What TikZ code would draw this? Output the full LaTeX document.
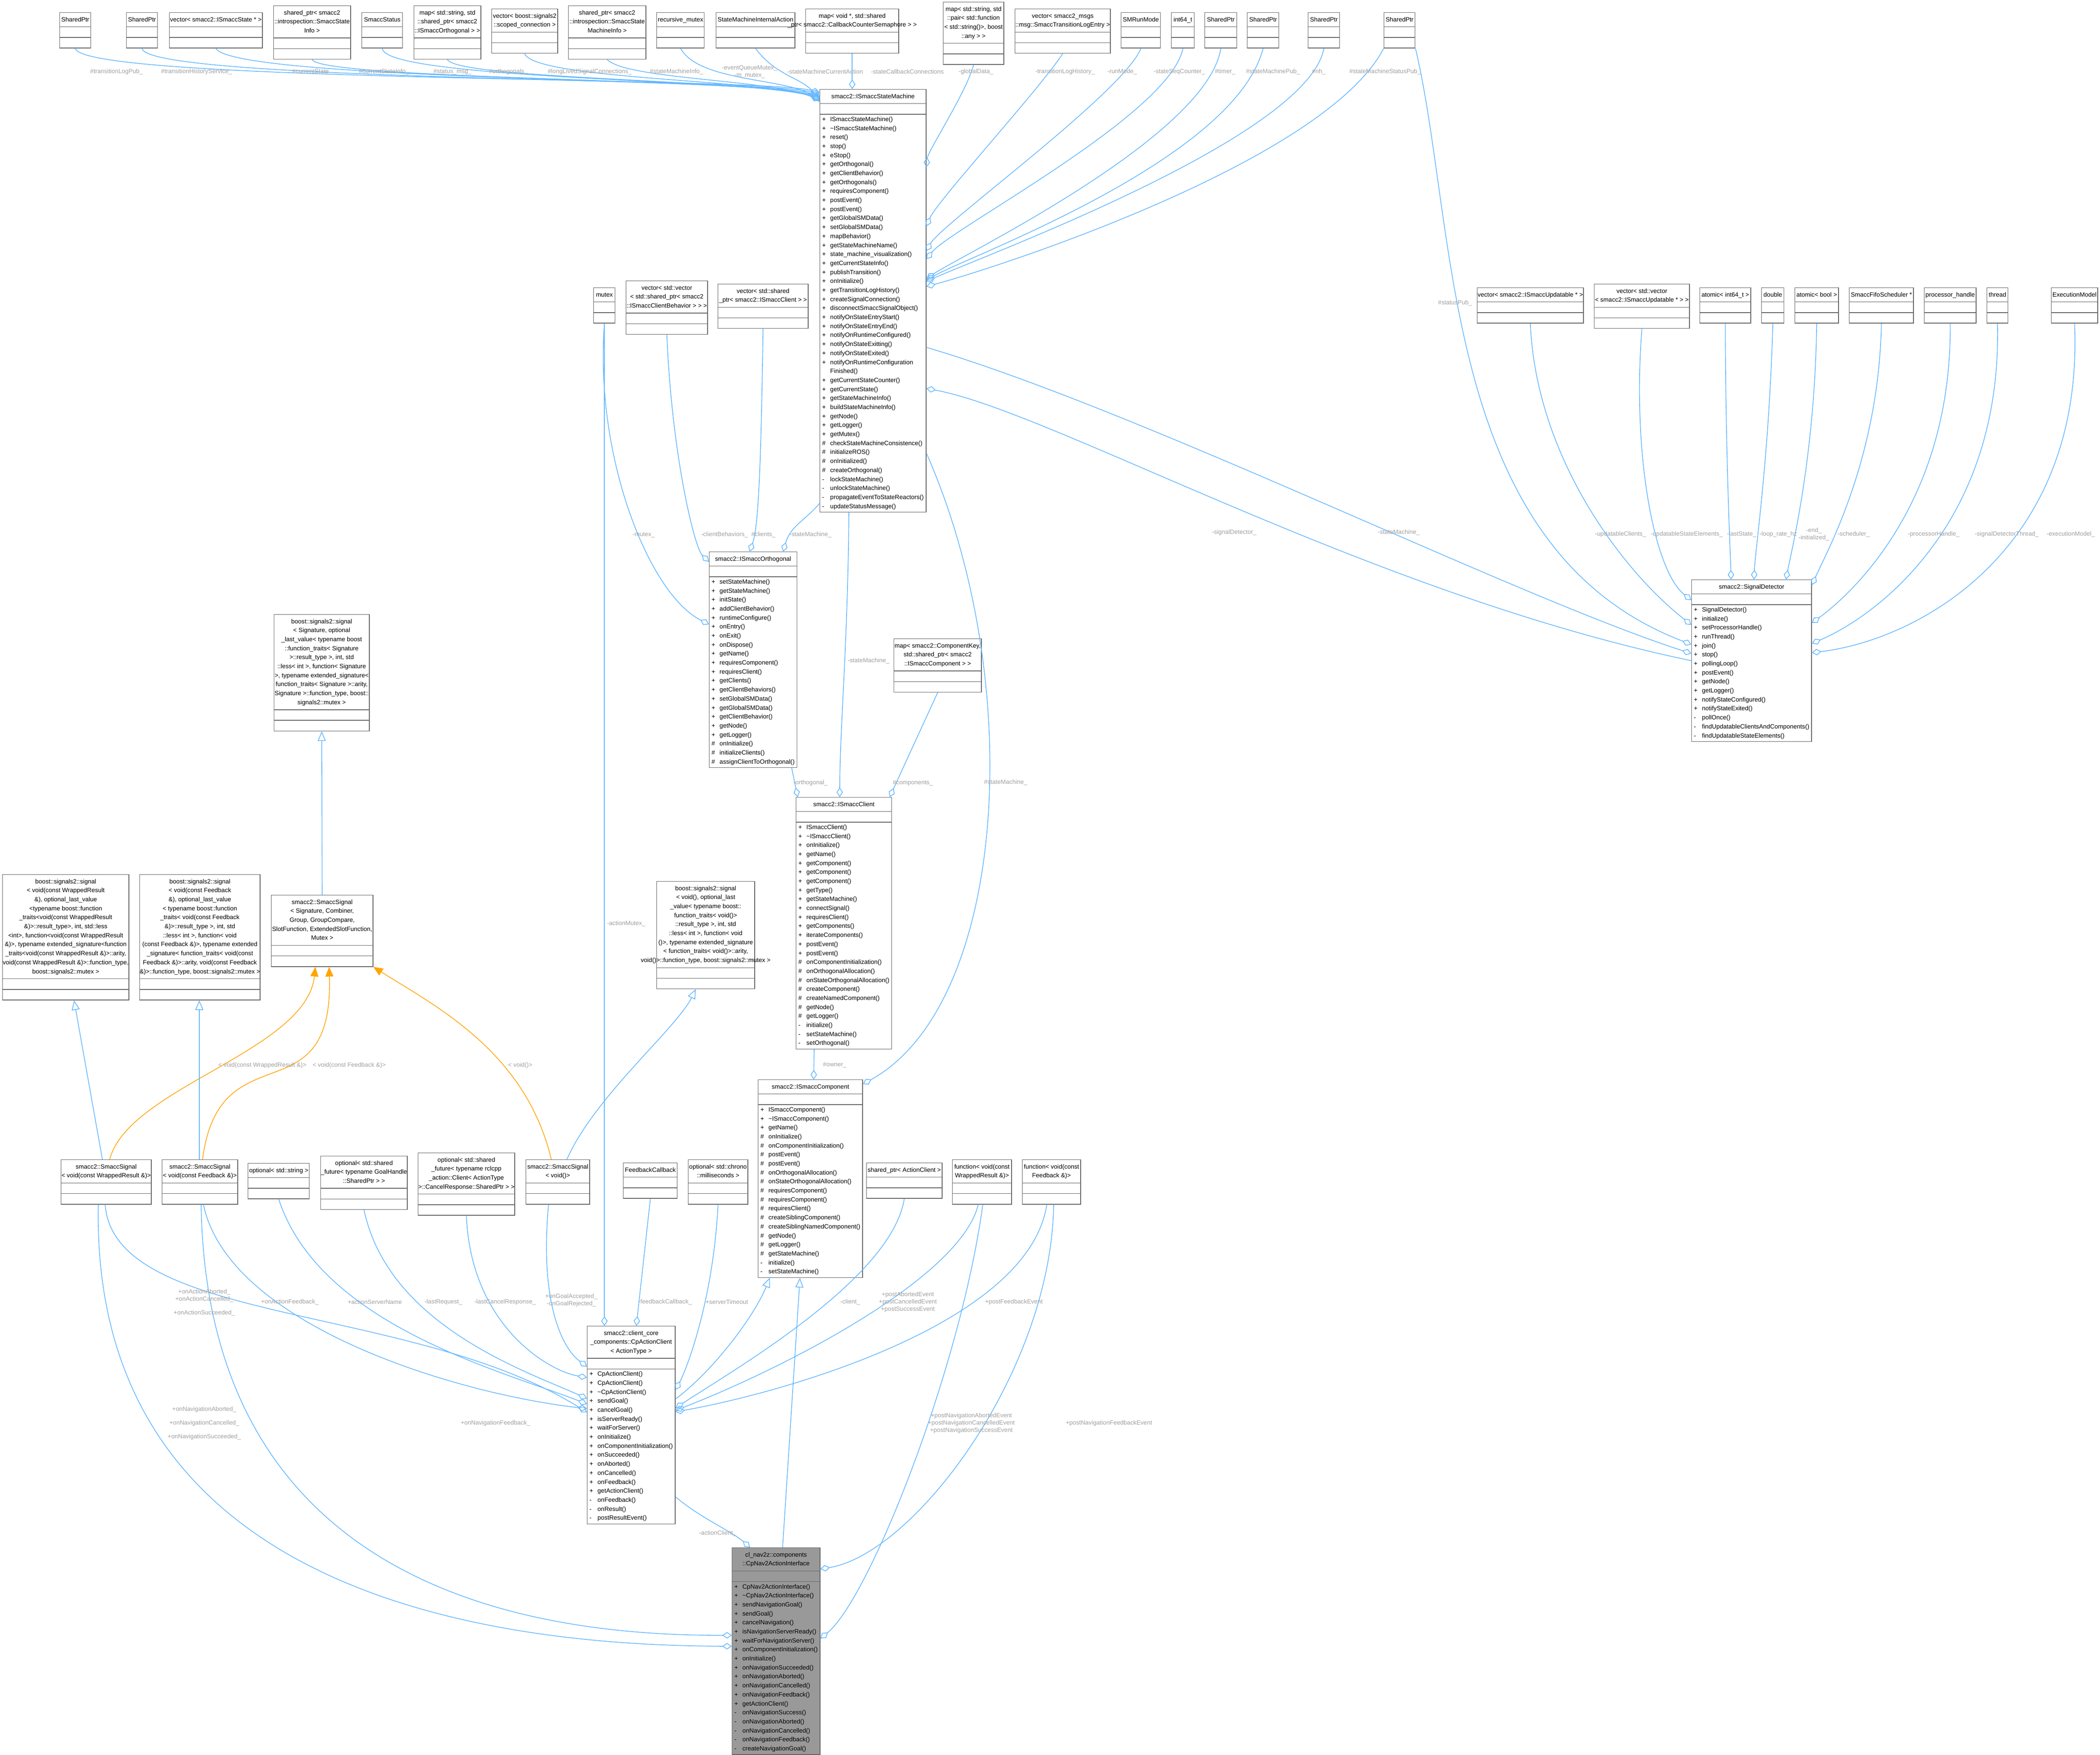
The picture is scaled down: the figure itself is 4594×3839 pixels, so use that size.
\documentclass[tikz,border=0pt]{standalone}
\usepackage{fontspec}
\setmainfont{Liberation Sans}
\usetikzlibrary{shapes.multipart,arrows.meta,calc}

\definecolor{edgeblue}{RGB}{99,184,255}
\definecolor{edgeorange}{RGB}{255,165,0}
\definecolor{lblgray}{RGB}{160,160,160}
\definecolor{boxgray}{RGB}{102,102,102}

\newcommand{\pubm}{\makebox[5pt][l]{+}}
\newcommand{\prom}{\makebox[5pt][l]{\#}}
\newcommand{\privm}{\makebox[5pt][l]{-}}
\newcommand{\emptyrow}{\rule{0pt}{3.4pt}}
\newcommand{\clsw}{1cm}
\newcommand{\ctitle}[1]{\makebox[\dimexpr\clsw-2.8pt\relax][c]{\begin{tabular}{@{}c@{}}#1\end{tabular}}}

\tikzset{
  cls/.style={draw=boxgray, fill=white, rectangle split, rectangle split parts=3,
    inner sep=1.4pt, font=\fontsize{3.85}{5.6}\selectfont, anchor=north west,
    minimum width=#1, align=left, /utils/exec={\renewcommand{\clsw}{#1}}},
  agg/.style={draw=edgeblue, line width=0.45pt, -{Diamond[open,length=6pt,width=4pt]}},
  inh/.style={draw=edgeblue, line width=0.45pt, -{Triangle[open,length=6pt,width=5pt]}},
  tpl/.style={draw=edgeorange, line width=0.45pt, -{Triangle[length=6pt,width=5pt]}},
  lbl/.style={text=lblgray, font=\fontsize{3.8}{4.6}\selectfont, align=center, inner sep=0pt},
}

\begin{document}
\begin{tikzpicture}[x=0.01cm,y=-0.01cm]
\useasboundingbox[fill=white] (0,0) rectangle (4594,3839);

% top row, members of the state machine
\node[cls=0.68cm] (tlp) at (130,27) {\ctitle{SharedPtr}\nodepart{two}\emptyrow\nodepart{three}\emptyrow};
\node[cls=0.68cm] (ths) at (276,27) {\ctitle{SharedPtr}\nodepart{two}\emptyrow\nodepart{three}\emptyrow};
\node[cls=2.03cm] (cst) at (370,27) {\ctitle{vector< smacc2::ISmaccState * >}\nodepart{two}\emptyrow\nodepart{three}\emptyrow};
\node[cls=1.68cm] (csi) at (598,12) {\ctitle{shared\_ptr< smacc2\\::introspection::SmaccState\\Info >}\nodepart{two}\emptyrow\nodepart{three}\emptyrow};
\node[cls=0.89cm] (sts) at (791,27) {\ctitle{SmaccStatus}\nodepart{two}\emptyrow\nodepart{three}\emptyrow};
\node[cls=1.46cm] (ort) at (905,12) {\ctitle{map< std::string, std\\::shared\_ptr< smacc2\\::ISmaccOrthogonal > >}\nodepart{two}\emptyrow\nodepart{three}\emptyrow};
\node[cls=1.44cm] (lls) at (1075,19) {\ctitle{vector< boost::signals2\\::scoped\_connection >}\nodepart{two}\emptyrow\nodepart{three}\emptyrow};
\node[cls=1.69cm] (smi) at (1243,12) {\ctitle{shared\_ptr< smacc2\\::introspection::SmaccState\\MachineInfo >}\nodepart{two}\emptyrow\nodepart{three}\emptyrow};
\node[cls=1.04cm] (rmx) at (1436,27) {\ctitle{recursive\_mutex}\nodepart{two}\emptyrow\nodepart{three}\emptyrow};
\node[cls=1.72cm] (sia) at (1566,27) {\ctitle{StateMachineInternalAction}\nodepart{two}\emptyrow\nodepart{three}\emptyrow};
\node[cls=2.03cm] (scc) at (1762,19) {\ctitle{map< void *, std::shared\\\_ptr< smacc2::CallbackCounterSemaphore > >}\nodepart{two}\emptyrow\nodepart{three}\emptyrow};
\node[cls=1.32cm] (gld) at (2063,4) {\ctitle{map< std::string, std\\::pair< std::function\\< std::string()>, boost\\::any > >}\nodepart{two}\emptyrow\nodepart{three}\emptyrow};
\node[cls=2.08cm] (tlh) at (2220,19) {\ctitle{vector< smacc2\_msgs\\::msg::SmaccTransitionLogEntry >}\nodepart{two}\emptyrow\nodepart{three}\emptyrow};
\node[cls=0.86cm] (rmd) at (2452,27) {\ctitle{SMRunMode}\nodepart{two}\emptyrow\nodepart{three}\emptyrow};
\node[cls=0.50cm] (ssq) at (2562,27) {\ctitle{int64\_t}\nodepart{two}\emptyrow\nodepart{three}\emptyrow};
\node[cls=0.70cm] (tmr) at (2635,27) {\ctitle{SharedPtr}\nodepart{two}\emptyrow\nodepart{three}\emptyrow};
\node[cls=0.69cm] (smp) at (2728,27) {\ctitle{SharedPtr}\nodepart{two}\emptyrow\nodepart{three}\emptyrow};
\node[cls=0.69cm] (nhp) at (2861,27) {\ctitle{SharedPtr}\nodepart{two}\emptyrow\nodepart{three}\emptyrow};
\node[cls=0.68cm] (ssp) at (3027,27) {\ctitle{SharedPtr}\nodepart{two}\emptyrow\nodepart{three}\emptyrow};

% state machine
\node[cls=2.17cm] (sm) at (1793,195) {\ctitle{smacc2::ISmaccStateMachine}\nodepart{two}\emptyrow\nodepart{three}%
\pubm ISmaccStateMachine()\\\pubm \textasciitilde ISmaccStateMachine()\\\pubm reset()\\\pubm stop()\\\pubm eStop()\\
\pubm getOrthogonal()\\\pubm getClientBehavior()\\\pubm getOrthogonals()\\\pubm requiresComponent()\\\pubm postEvent()\\
\pubm postEvent()\\\pubm getGlobalSMData()\\\pubm setGlobalSMData()\\\pubm mapBehavior()\\\pubm getStateMachineName()\\
\pubm state\_machine\_visualization()\\\pubm getCurrentStateInfo()\\\pubm publishTransition()\\\pubm onInitialize()\\
\pubm getTransitionLogHistory()\\\pubm createSignalConnection()\\\pubm disconnectSmaccSignalObject()\\
\pubm notifyOnStateEntryStart()\\\pubm notifyOnStateEntryEnd()\\\pubm notifyOnRuntimeConfigured()\\
\pubm notifyOnStateExitting()\\\pubm notifyOnStateExited()\\\pubm notifyOnRuntimeConfiguration\\\hspace*{5pt}Finished()\\
\pubm getCurrentStateCounter()\\\pubm getCurrentState()\\\pubm getStateMachineInfo()\\\pubm buildStateMachineInfo()\\
\pubm getNode()\\\pubm getLogger()\\\pubm getMutex()\\\prom checkStateMachineConsistence()\\\prom initializeROS()\\
\prom onInitialized()\\\prom createOrthogonal()\\\privm lockStateMachine()\\\privm unlockStateMachine()\\
\privm propagateEventToStateReactors()\\\privm updateStatusMessage()};

% orthogonal and its members
\node[cls=0.47cm] (mtx) at (1298,629) {\ctitle{mutex}\nodepart{two}\emptyrow\nodepart{three}\emptyrow};
\node[cls=1.78cm] (cbv) at (1369,614) {\ctitle{vector< std::vector\\< std::shared\_ptr< smacc2\\::ISmaccClientBehavior > > >}\nodepart{two}\emptyrow\nodepart{three}\emptyrow};
\node[cls=1.97cm] (clv) at (1570,621) {\ctitle{vector< std::shared\\\_ptr< smacc2::ISmaccClient > >}\nodepart{two}\emptyrow\nodepart{three}\emptyrow};
\node[cls=1.81cm] (orth) at (1551,1207) {\ctitle{smacc2::ISmaccOrthogonal}\nodepart{two}\emptyrow\nodepart{three}%
\pubm setStateMachine()\\\pubm getStateMachine()\\\pubm initState()\\\pubm addClientBehavior()\\\pubm runtimeConfigure()\\
\pubm onEntry()\\\pubm onExit()\\\pubm onDispose()\\\pubm getName()\\\pubm requiresComponent()\\\pubm requiresClient()\\
\pubm getClients()\\\pubm getClientBehaviors()\\\pubm setGlobalSMData()\\\pubm getGlobalSMData()\\\pubm getClientBehavior()\\
\pubm getNode()\\\pubm getLogger()\\\prom onInitialize()\\\prom initializeClients()\\\prom assignClientToOrthogonal()};

% client and component
\node[cls=1.91cm] (ckm) at (1955,1397) {\ctitle{map< smacc2::ComponentKey,\\ std::shared\_ptr< smacc2\\::ISmaccComponent > >}\nodepart{two}\emptyrow\nodepart{three}\emptyrow};
\node[cls=1.96cm] (client) at (1741,1744) {\ctitle{smacc2::ISmaccClient}\nodepart{two}\emptyrow\nodepart{three}%
\pubm ISmaccClient()\\\pubm \textasciitilde ISmaccClient()\\\pubm onInitialize()\\\pubm getName()\\\pubm getComponent()\\
\pubm getComponent()\\\pubm getComponent()\\\pubm getType()\\\pubm getStateMachine()\\\pubm connectSignal()\\
\pubm requiresClient()\\\pubm getComponents()\\\pubm iterateComponents()\\\pubm postEvent()\\\pubm postEvent()\\
\prom onComponentInitialization()\\\prom onOrthogonalAllocation()\\\prom onStateOrthogonalAllocation()\\
\prom createComponent()\\\prom createNamedComponent()\\\prom getNode()\\\prom getLogger()\\\privm initialize()\\
\privm setStateMachine()\\\privm setOrthogonal()};
\node[cls=2.16cm] (comp) at (1658,2362) {\ctitle{smacc2::ISmaccComponent}\nodepart{two}\emptyrow\nodepart{three}%
\pubm ISmaccComponent()\\\pubm \textasciitilde ISmaccComponent()\\\pubm getName()\\\prom onInitialize()\\
\prom onComponentInitialization()\\\prom postEvent()\\\prom postEvent()\\\prom onOrthogonalAllocation()\\
\prom onStateOrthogonalAllocation()\\\prom requiresComponent()\\\prom requiresComponent()\\\prom requiresClient()\\
\prom createSiblingComponent()\\\prom createSiblingNamedComponent()\\\prom getNode()\\\prom getLogger()\\
\prom getStateMachine()\\\privm initialize()\\\privm setStateMachine()};

% signal detector and its members
\node[cls=2.32cm] (upc) at (3231,629) {\ctitle{vector< smacc2::ISmaccUpdatable * >}\nodepart{two}\emptyrow\nodepart{three}\emptyrow};
\node[cls=2.08cm] (upe) at (3487,621) {\ctitle{vector< std::vector\\< smacc2::ISmaccUpdatable * > >}\nodepart{two}\emptyrow\nodepart{three}\emptyrow};
\node[cls=1.11cm] (lst) at (3718,629) {\ctitle{atomic< int64\_t >}\nodepart{two}\emptyrow\nodepart{three}\emptyrow};
\node[cls=0.49cm] (lrh) at (3853,629) {\ctitle{double}\nodepart{two}\emptyrow\nodepart{three}\emptyrow};
\node[cls=0.95cm] (abl) at (3926,629) {\ctitle{atomic< bool >}\nodepart{two}\emptyrow\nodepart{three}\emptyrow};
\node[cls=1.40cm] (sch) at (4045,629) {\ctitle{SmaccFifoScheduler *}\nodepart{two}\emptyrow\nodepart{three}\emptyrow};
\node[cls=1.13cm] (prh) at (4209,629) {\ctitle{processor\_handle}\nodepart{two}\emptyrow\nodepart{three}\emptyrow};
\node[cls=0.46cm] (thr) at (4346,629) {\ctitle{thread}\nodepart{two}\emptyrow\nodepart{three}\emptyrow};
\node[cls=1.01cm] (exm) at (4487,629) {\ctitle{ExecutionModel}\nodepart{two}\emptyrow\nodepart{three}\emptyrow};
\node[cls=2.46cm] (sd) at (3700,1268) {\ctitle{smacc2::SignalDetector}\nodepart{two}\emptyrow\nodepart{three}%
\pubm SignalDetector()\\\pubm initialize()\\\pubm setProcessorHandle()\\\pubm runThread()\\\pubm join()\\\pubm stop()\\
\pubm pollingLoop()\\\pubm postEvent()\\\pubm getNode()\\\pubm getLogger()\\\pubm notifyStateConfigured()\\
\pubm notifyStateExited()\\\privm pollOnce()\\\privm findUpdatableClientsAndComponents()\\\privm findUpdatableStateElements()};

% signals
\node[cls=2.08cm] (bsig) at (599,1344) {\ctitle{boost::signals2::signal\\< Signature, optional\\\_last\_value< typename boost\\::function\_traits< Signature\\ >::result\_type >, int, std\\::less< int >, function< Signature\\ >, typename extended\_signature<\\ function\_traits< Signature >::arity,\\ Signature >::function\_type, boost::\\ signals2::mutex >}\nodepart{two}\emptyrow\nodepart{three}\emptyrow};
\node[cls=2.22cm] (ssig) at (593,1958) {\ctitle{smacc2::SmaccSignal\\< Signature, Combiner,\\ Group, GroupCompare,\\ SlotFunction, ExtendedSlotFunction,\\ Mutex >}\nodepart{two}\emptyrow\nodepart{three}\emptyrow};
\node[cls=2.76cm] (bwr) at (5,1913) {\ctitle{boost::signals2::signal\\< void(const WrappedResult\\ \&), optional\_last\_value\\ <typename boost::function\\\_traits<void(const WrappedResult\\ \&)>::result\_type>, int, std::less\\ <int>, function<void(const WrappedResult\\ \&)>, typename extended\_signature<function\\\_traits<void(const WrappedResult \&)>::arity,\\ void(const WrappedResult \&)>::function\_type,\\ boost::signals2::mutex >}\nodepart{two}\emptyrow\nodepart{three}\emptyrow};
\node[cls=2.63cm] (bfb) at (305,1913) {\ctitle{boost::signals2::signal\\< void(const Feedback\\ \&), optional\_last\_value\\< typename boost::function\\\_traits< void(const Feedback\\ \&)>::result\_type >, int, std\\::less< int >, function< void\\(const Feedback \&)>, typename extended\\\_signature< function\_traits< void(const\\ Feedback \&)>::arity, void(const Feedback\\ \&)>::function\_type, boost::signals2::mutex >}\nodepart{two}\emptyrow\nodepart{three}\emptyrow};
\node[cls=2.14cm] (bvd) at (1436,1928) {\ctitle{boost::signals2::signal\\< void(), optional\_last\\\_value< typename boost::\\function\_traits< void()>\\::result\_type >, int, std\\::less< int >, function< void\\()>, typename extended\_signature\\< function\_traits< void()>::arity,\\ void()>::function\_type, boost::signals2::mutex >}\nodepart{two}\emptyrow\nodepart{three}\emptyrow};
\node[cls=1.97cm] (sswr) at (133,2537) {\ctitle{smacc2::SmaccSignal\\< void(const WrappedResult \&)>}\nodepart{two}\emptyrow\nodepart{three}\emptyrow};
\node[cls=1.65cm] (ssfb) at (354,2537) {\ctitle{smacc2::SmaccSignal\\< void(const Feedback \&)>}\nodepart{two}\emptyrow\nodepart{three}\emptyrow};
\node[cls=1.34cm] (ostr) at (542,2545) {\ctitle{optional< std::string >}\nodepart{two}\emptyrow\nodepart{three}\emptyrow};
\node[cls=1.89cm] (ogh) at (701,2529) {\ctitle{optional< std::shared\\\_future< typename GoalHandle\\::SharedPtr > >}\nodepart{two}\emptyrow\nodepart{three}\emptyrow};
\node[cls=2.11cm] (ocr) at (914,2522) {\ctitle{optional< std::shared\\\_future< typename rclcpp\\\_action::Client< ActionType\\ >::CancelResponse::SharedPtr > >}\nodepart{two}\emptyrow\nodepart{three}\emptyrow};
\node[cls=1.39cm] (ssv) at (1150,2537) {\ctitle{smacc2::SmaccSignal\\< void()>}\nodepart{two}\emptyrow\nodepart{three}\emptyrow};
\node[cls=1.18cm] (fbc) at (1363,2544) {\ctitle{FeedbackCallback}\nodepart{two}\emptyrow\nodepart{three}\emptyrow};
\node[cls=1.30cm] (chr) at (1505,2537) {\ctitle{optional< std::chrono\\::milliseconds >}\nodepart{two}\emptyrow\nodepart{three}\emptyrow};
\node[cls=1.65cm] (spac) at (1895,2544) {\ctitle{shared\_ptr< ActionClient >}\nodepart{two}\emptyrow\nodepart{three}\emptyrow};
\node[cls=1.29cm] (fwr) at (2083,2537) {\ctitle{function< void(const\\ WrappedResult \&)>}\nodepart{two}\emptyrow\nodepart{three}\emptyrow};
\node[cls=1.27cm] (ffb) at (2236,2537) {\ctitle{function< void(const\\ Feedback \&)>}\nodepart{two}\emptyrow\nodepart{three}\emptyrow};

% action client and the nav2 interface
\node[cls=1.80cm] (cpa) at (1284,2901) {\ctitle{smacc2::client\_core\\\_components::CpActionClient\\< ActionType >}\nodepart{two}\emptyrow\nodepart{three}%
\pubm CpActionClient()\\\pubm CpActionClient()\\\pubm \textasciitilde CpActionClient()\\\pubm sendGoal()\\\pubm cancelGoal()\\
\pubm isServerReady()\\\pubm waitForServer()\\\pubm onInitialize()\\\pubm onComponentInitialization()\\\pubm onSucceeded()\\
\pubm onAborted()\\\pubm onCancelled()\\\pubm onFeedback()\\\pubm getActionClient()\\\privm onFeedback()\\\privm onResult()\\
\privm postResultEvent()};
\node[cls=1.81cm, fill={rgb,255:red,153;green,153;blue,153}] (nav) at (1601,3386) {\ctitle{cl\_nav2z::components\\::CpNav2ActionInterface}\nodepart{two}\emptyrow\nodepart{three}%
\pubm CpNav2ActionInterface()\\\pubm \textasciitilde CpNav2ActionInterface()\\\pubm sendNavigationGoal()\\\pubm sendGoal()\\
\pubm cancelNavigation()\\\pubm isNavigationServerReady()\\\pubm waitForNavigationServer()\\\pubm onComponentInitialization()\\
\pubm onInitialize()\\\pubm onNavigationSucceeded()\\\pubm onNavigationAborted()\\\pubm onNavigationCancelled()\\
\pubm onNavigationFeedback()\\\pubm getActionClient()\\\privm onNavigationSuccess()\\\privm onNavigationAborted()\\
\privm onNavigationCancelled()\\\privm onNavigationFeedback()\\\privm createNavigationGoal()};

% connectors into the state machine
\draw[agg] (tlp.south) .. controls (180,180) and (1650,168) .. ([yshift=-2pt]sm.north west);
\draw[agg] (ths.south) .. controls (320,178) and (1650,170) .. ([yshift=-3pt]sm.north west);
\draw[agg] (cst.south) .. controls (510,176) and (1650,172) .. ([yshift=-4pt]sm.north west);
\draw[agg] (csi.south) .. controls (700,174) and (1650,172) .. ([yshift=-5pt]sm.north west);
\draw[agg] (sts.south) .. controls (840,174) and (1650,174) .. ([yshift=-5pt]sm.north west);
\draw[agg] (ort.south) .. controls (1000,174) and (1660,174) .. ([yshift=-6pt]sm.north west);
\draw[agg] (lls.south) .. controls (1170,174) and (1670,174) .. ([yshift=-6pt]sm.north west);
\draw[agg] (smi.south) .. controls (1370,174) and (1690,174) .. ([yshift=-7pt]sm.north west);
\draw[agg] (rmx.south) .. controls (1530,180) and (1720,170) .. ([yshift=-7pt]sm.north west);
\draw[agg] (sia.south) .. controls (1700,170) and (1760,170) .. ([yshift=-8pt]sm.north west);
\draw[agg] (scc.south) -- (scc.south |- sm.north);
\draw[agg] (gld.south) .. controls (2115,200) and (2030,330) .. ($(sm.north east)+(0,171)$);
\draw[agg] (tlh.south) .. controls (2270,200) and (2050,440) .. ($(sm.north east)+(0,300)$);
\draw[agg] (rmd.south) .. controls (2460,200) and (2060,490) .. ($(sm.north east)+(0,354)$);
\draw[agg] (ssq.south) .. controls (2560,250) and (2080,500) .. ($(sm.north east)+(0,372)$);
\draw[agg] (tmr.south) .. controls (2640,300) and (2100,560) .. ($(sm.north east)+(0,415)$);
\draw[agg] (smp.south) .. controls (2700,350) and (2120,560) .. ($(sm.north east)+(0,418)$);
\draw[agg] (nhp.south) .. controls (2860,300) and (2150,560) .. ($(sm.north east)+(0,421)$);
\draw[agg] (ssp.south west) .. controls (2900,350) and (2200,580) .. ($(sm.north east)+(0,432)$);
\draw[agg] (sd.west) .. controls (3000,1300) and (2300,900) .. ($(sm.north east)+(0,655)$);

% connectors into the signal detector
\draw[agg] ($(sm.north east)+(0,565)$) .. controls (2500,900) and (3300,1300) .. ($(sd.north west)+(0,162)$);
\draw[agg] (ssp.south east) .. controls (3190,500) and (3150,1200) .. ($(sd.north west)+(0,142)$);
\draw[agg] (upc.south) .. controls (3360,1000) and (3550,1250) .. ($(sd.north west)+(0,99)$);
\draw[agg] (upe.south) .. controls (3570,1000) and (3620,1250) .. ($(sd.north west)+(0,45)$);
\draw[agg] (lst.south) .. controls (3775,1000) and (3785,1200) .. ($(sd.north west)+(87,0)$);
\draw[agg] (lrh.south) .. controls (3870,1000) and (3840,1200) .. ($(sd.north west)+(137,0)$);
\draw[agg] (abl.south) .. controls (3970,1000) and (3920,1200) .. ($(sd.north west)+(207,0)$);
\draw[agg] (sch.south) .. controls (4110,1000) and (4000,1200) .. ($(sd.north east)+(0,12)$);
\draw[agg] (prh.south) .. controls (4270,1100) and (4050,1300) .. ($(sd.north east)+(0,95)$);
\draw[agg] (thr.south) .. controls (4380,1150) and (4100,1350) .. ($(sd.north east)+(0,140)$);
\draw[agg] (exm.south) .. controls (4560,1200) and (4200,1400) .. ($(sd.north east)+(0,160)$);

% orthogonal, client, component
\draw[agg] (cbv.south) .. controls (1470,1000) and (1520,1200) .. ($(orth.north west)+(0,22)$);
\draw[agg] (mtx.south) .. controls (1300,1000) and (1420,1300) .. ($(orth.north west)+(0,159)$);
\draw[agg] (clv.south) .. controls (1665,1000) and (1660,1150) .. ($(orth.north west)+(89,0)$);
\draw[agg] ($(sm.south west)+(0,-20)$) .. controls (1760,1140) and (1730,1150) .. ($(orth.north west)+(162,0)$);
\draw[agg] (mtx.south) -- (mtx.south |- cpa.north);
\draw[agg] ($(sm.south west)+(64,0)$) .. controls (1855,1400) and (1837,1600) .. ($(client.north west)+(96,0)$);
\draw[agg] ($(orth.south east)+(-12,0)$) -- ($(client.north west)+(4,0)$);
\draw[agg] (ckm.south) -- ($(client.north east)+(-5,0)$);
\draw[agg] ($(sm.south east)+(0,-130)$) .. controls (2250,1500) and (2200,2200) .. ($(comp.north east)+(0,10)$);
\draw[agg] ($(client.south west)+(40,0)$) -- ($(comp.north west)+(122,0)$);
\draw[inh] ($(cpa.north east)+(0,160)$) .. controls (1560,3000) and (1650,2880) .. ($(comp.south west)+(26,0)$);
\draw[inh] ($(nav.north west)+(111,0)$) -- ($(comp.south west)+(92,0)$);
\draw[agg] ($(cpa.south east)+(0,-60)$) .. controls (1530,3320) and (1600,3350) .. ($(nav.north west)+(40,0)$);

% signal templates
\draw[inh] (ssig.north) -- (bsig.south);
\draw[tpl] ($(sswr.north west)+(107,0)$) .. controls (280,2380) and (670,2300) .. ($(ssig.south west)+(97,0)$);
\draw[tpl] ($(ssfb.north west)+(89,0)$) .. controls (480,2250) and (730,2450) .. ($(ssig.south west)+(127,0)$);
\draw[tpl] ($(ssv.north west)+(56,0)$) .. controls (1150,2300) and (950,2200) .. (ssig.south east);
\draw[inh] ($(sswr.north west)+(91,0)$) -- ($(bwr.south west)+(157,0)$);
\draw[inh] ($(ssfb.north west)+(82,0)$) -- ($(bfb.south west)+(131,0)$);
\draw[inh] ($(ssv.north west)+(90,0)$) .. controls (1300,2400) and (1480,2250) .. ($(bvd.south west)+(86,0)$);

% members of the action client
\draw[agg] ($(sswr.south west)+(97,0)$) .. controls (250,2900) and (900,2850) .. ($(cpa.north west)+(0,189)$);
\draw[agg] ($(sswr.south west)+(82,0)$) .. controls (200,3400) and (900,3600) .. ($(nav.north west)+(0,216)$);
\draw[agg] ($(ssfb.south west)+(91,0)$) .. controls (500,2900) and (1000,3050) .. ($(cpa.north west)+(0,181)$);
\draw[agg] ($(ssfb.south west)+(86,0)$) .. controls (450,3300) and (900,3580) .. ($(nav.north west)+(0,192)$);
\draw[agg] (ostr.south) .. controls (700,2900) and (1100,3000) .. ($(cpa.north west)+(0,171)$);
\draw[agg] (ogh.south) .. controls (850,2900) and (1150,3000) .. ($(cpa.north west)+(0,159)$);
\draw[agg] (ocr.south) .. controls (1030,2900) and (1200,3000) .. ($(cpa.north west)+(0,113)$);
\draw[agg] ($(ssv.south west)+(50,0)$) .. controls (1180,2850) and (1230,2950) .. ($(cpa.north west)+(0,89)$);
\draw[agg] (fbc.south) -- ($(cpa.north west)+(108,0)$);
\draw[agg] (chr.south) .. controls (1560,2850) and (1500,3000) .. ($(cpa.north east)+(0,140)$);
\draw[agg] (spac.south) .. controls (1950,2800) and (1600,3000) .. ($(cpa.north east)+(0,180)$);
\draw[agg] ($(fwr.south west)+(57,0)$) .. controls (2100,2800) and (1700,3000) .. ($(cpa.north east)+(0,185)$);
\draw[agg] ($(fwr.south west)+(67,0)$) .. controls (2100,3000) and (1900,3500) .. ($(nav.north east)+(0,199)$);
\draw[agg] ($(ffb.south west)+(54,0)$) .. controls (2250,2900) and (1700,3050) .. ($(cpa.north east)+(0,188)$);
\draw[agg] ($(ffb.south west)+(69,0)$) .. controls (2300,3000) and (2000,3400) .. ($(nav.north east)+(0,47)$);

% connector labels
\node[lbl] (l01) at (255,157) {\#transitionLogPub\_};
\node[lbl] (l02) at (430,157) {\#transitionHistoryService\_};
\node[lbl] (l03) at (683,157) {\#currentState\_};
\node[lbl] (l04) at (840,157) {\#currentStateInfo\_};
\node[lbl] (l05) at (990,157) {\#status\_msg\_};
\node[lbl] (l06) at (1112,157) {\#orthogonals\_};
\node[lbl] (l07) at (1290,157) {\#longLivedSignalConnections\_};
\node[lbl] (l08) at (1480,157) {\#stateMachineInfo\_};
\node[lbl] (l09) at (1640,157) {-eventQueueMutex\_\\-m\_mutex\_};
\node[lbl] (l10) at (1805,157) {-stateMachineCurrentAction};
\node[lbl] (l11) at (1985,157) {-stateCallbackConnections};
\node[lbl] (l12) at (2135,157) {-globalData\_};
\node[lbl] (l13) at (2330,157) {-transitionLogHistory\_};
\node[lbl] (l14) at (2455,157) {-runMode\_};
\node[lbl] (l15) at (2580,157) {-stateSeqCounter\_};
\node[lbl] (l16) at (2680,157) {\#timer\_};
\node[lbl] (l17) at (2785,157) {\#stateMachinePub\_};
\node[lbl] (l18) at (2885,157) {\#nh\_};
\node[lbl] (l19) at (3030,157) {\#stateMachineStatusPub\_};
\node[lbl] (l20) at (3183,663) {\#statusPub\_};
\node[lbl] (l21) at (2700,1165) {-signalDetector\_};
\node[lbl] (l22) at (3060,1165) {-stateMachine\_};
\node[lbl] (l23) at (3545,1169) {-updatableClients\_};
\node[lbl] (l24) at (3690,1169) {-updatableStateElements\_};
\node[lbl] (l25) at (3810,1169) {-lastState\_};
\node[lbl] (l26) at (3890,1169) {-loop\_rate\_hz};
\node[lbl] (l27) at (3968,1169) {-end\_\\-initialized\_};
\node[lbl] (l28) at (4055,1169) {-scheduler\_};
\node[lbl] (l29) at (4230,1169) {-processorHandle\_};
\node[lbl] (l30) at (4390,1169) {-signalDetectorThread\_};
\node[lbl] (l31) at (4530,1169) {-executionModel\_};
\node[lbl] (l32) at (1408,1170) {-mutex\_};
\node[lbl] (l33) at (1585,1170) {-clientBehaviors\_};
\node[lbl] (l34) at (1670,1170) {\#clients\_};
\node[lbl] (l35) at (1773,1170) {-stateMachine\_};
\node[lbl] (l36) at (1900,1446) {-stateMachine\_};
\node[lbl] (l37) at (1773,1713) {-orthogonal\_};
\node[lbl] (l38) at (1997,1713) {\#components\_};
\node[lbl] (l39) at (2200,1712) {\#stateMachine\_};
\node[lbl] (l40) at (1826,2330) {\#owner\_};
\node[lbl] (l41) at (1370,2021) {-actionMutex\_};
\node[lbl] (l42) at (574,2331) {< void(const WrappedResult \&)>};
\node[lbl] (l43) at (764,2331) {< void(const Feedback \&)>};
\node[lbl] (l44) at (1138,2331) {< void()>};
\node[lbl] (l45) at (447,2850) {+onActionAborted\_\\+onActionCancelled\_\\[4pt]+onActionSucceeded\_};
\node[lbl] (l46) at (634,2849) {+onActionFeedback\_};
\node[lbl] (l47) at (820,2849) {+actionServerName};
\node[lbl] (l48) at (970,2849) {-lastRequest\_};
\node[lbl] (l49) at (1105,2849) {-lastCancelResponse\_};
\node[lbl] (l50) at (1250,2845) {+onGoalAccepted\_\\-onGoalRejected\_};
\node[lbl] (l51) at (1455,2849) {-feedbackCallback\_};
\node[lbl] (l52) at (1590,2849) {+serverTimeout};
\node[lbl] (l53) at (1860,2849) {-client\_};
\node[lbl] (l54) at (1986,2849) {+postAbortedEvent\\+postCancelledEvent\\+postSuccessEvent};
\node[lbl] (l55) at (2218,2849) {+postFeedbackEvent};
\node[lbl] (l56) at (447,3114) {+onNavigationAborted\_\\[4pt]+onNavigationCancelled\_\\[4pt]+onNavigationSucceeded\_};
\node[lbl] (l57) at (1084,3114) {+onNavigationFeedback\_};
\node[lbl] (l58) at (2125,3114) {+postNavigationAbortedEvent\\+postNavigationCancelledEvent\\+postNavigationSuccessEvent};
\node[lbl] (l59) at (2426,3114) {+postNavigationFeedbackEvent};
\node[lbl] (l60) at (1570,3355) {-actionClient\_};
\end{tikzpicture}
\end{document}
